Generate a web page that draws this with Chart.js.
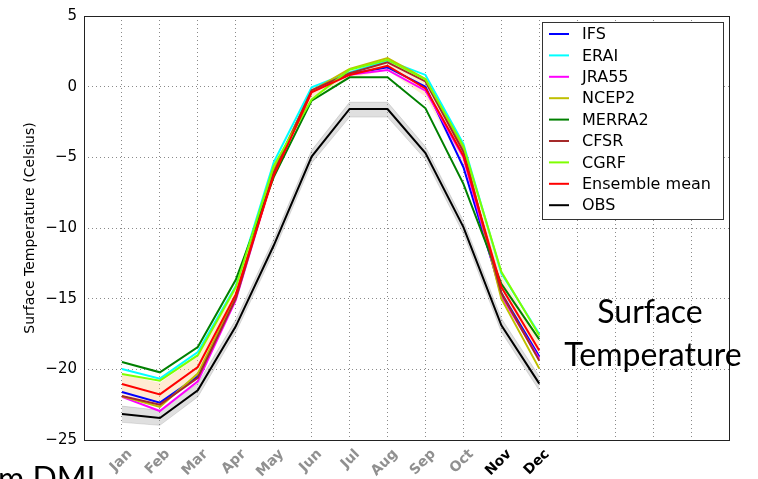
<!DOCTYPE html>
<html>
<head>
<meta charset="utf-8">
<script src="https://cdn.jsdelivr.net/npm/chart.js@4.4.1/dist/chart.umd.min.js"></script>
<style>
  body { margin: 0; background: #fff; }
  #wrap { width: 758px; height: 479px; }
</style>
</head>
<body>
<div id="wrap"><canvas id="myChart" width="758" height="479"></canvas></div>
<script>
const months = ['Jan', 'Feb', 'Mar', 'Apr', 'May', 'Jun', 'Jul', 'Aug', 'Sep', 'Oct', 'Nov', 'Dec'];
const yTicks = [5, 0, -5, -10, -15, -20, -25];

// monthly surface temperature, deg C
const ifs    = [-21.6, -22.36, -20.5, -14.9, -6.0, -0.3, 0.9, 1.37, 0.0, -5.7, -14.6, -19.1];
const erai   = [-19.98, -20.66, -18.77, -14.1, -5.35, -0.05, 1.0, 1.84, 0.83, -4.05, -13.2, -17.5];
const jra55  = [-21.95, -22.95, -20.85, -15.1, -6.1, -0.35, 0.85, 1.18, -0.28, -5.0, -14.8, -19.25];
const ncep2  = [-21.9, -22.66, -20.3, -14.8, -5.9, -0.3, 1.25, 2.03, 0.54, -4.3, -15.0, -19.95];
const merra2 = [-19.48, -20.21, -18.42, -13.66, -6.4, -0.99, 0.66, 0.66, -1.53, -6.88, -13.95, -17.88];
const cfsr   = [-21.89, -22.5, -20.6, -15.0, -6.1, -0.25, 0.95, 1.72, 0.37, -4.6, -14.6, -19.4];
const cgrf   = [-20.33, -20.8, -19.0, -14.2, -5.6, -0.9, 1.2, 1.9, 0.5, -4.2, -13.1, -17.6];
const ensMean = [-21.04, -21.77, -19.84, -14.7, -6.29, -0.4, 0.83, 1.48, -0.12, -4.88, -14.18, -18.66];
const obs    = [-23.16, -23.44, -21.48, -16.96, -11.24, -4.95, -1.58, -1.58, -4.7, -9.94, -16.89, -21.01];

// spread bands
const ensHigh = [-20.35, -20.95, -19.1, -14.1, -5.7, -0.1, 1.1, 1.8, 0.45, -4.2, -13.4, -17.9];
const ensLow  = [-21.75, -22.6, -20.6, -15.2, -6.6, -0.75, 0.6, 1.15, -0.7, -5.6, -15.0, -19.4];
const obsHigh = [-22.6, -22.9, -21.0, -16.5, -10.8, -4.5, -1.1, -1.1, -4.25, -9.5, -16.4, -20.5];
const obsLow  = [-23.75, -23.96, -21.95, -17.4, -11.7, -5.4, -2.15, -2.15, -5.15, -10.4, -17.35, -21.5];

const series = [
  { name: 'IFS', data: ifs, color: '#0000ff' },
  { name: 'ERAI', data: erai, color: '#00ffff' },
  { name: 'JRA55', data: jra55, color: '#ff00ff' },
  { name: 'NCEP2', data: ncep2, color: '#bfbf00' },
  { name: 'MERRA2', data: merra2, color: '#008000' },
  { name: 'CFSR', data: cfsr, color: '#a52a2a' },
  { name: 'CGRF', data: cgrf, color: '#7fff00' },
  { name: 'Ensemble mean', data: ensMean, color: '#ff0000' },
  { name: 'OBS', data: obs, color: '#000000' },
];

const toPoints = arr => arr.map((v, i) => ({ x: i + 1, y: v }));
const FONT = "'DejaVu Sans', sans-serif";

const bandSet = (data, fill, bg, border) => ({
  data: toPoints(data),
  fill: fill,
  backgroundColor: bg,
  borderColor: border,
  borderWidth: border ? 1 : 0,
  pointRadius: 0,
  tension: 0,
  order: 1000,
});

const datasets = [
  bandSet(obsHigh, 1, 'rgba(150,150,150,0.3)', 'rgba(0,0,0,0.12)'),
  bandSet(obsLow, false, 'rgba(0,0,0,0)', 'rgba(0,0,0,0.12)'),
  bandSet(ensHigh, 3, 'rgba(255,190,110,0.3)', null),
  bandSet(ensLow, false, 'rgba(0,0,0,0)', null),
  ...series.map((s, i) => ({
    label: s.name,
    data: toPoints(s.data),
    borderColor: s.color,
    backgroundColor: s.color,
    borderWidth: 2,
    pointRadius: 0,
    fill: false,
    tension: 0,
    order: 100 - i,
  })),
];

// axes frame, legend box and the side captions
const decor = {
  id: 'decor',
  afterDraw(chart) {
    const { ctx, chartArea: a } = chart;
    ctx.save();
    ctx.strokeStyle = '#222';
    ctx.lineWidth = 1;
    ctx.strokeRect(Math.round(a.left) + 0.5, Math.round(a.top) + 0.5,
      Math.round(a.right - a.left), Math.round(a.bottom - a.top));

    // legend
    const lx = 542, ly = 22, lw = 181, lh = 197;
    ctx.fillStyle = '#fff';
    ctx.fillRect(lx, ly, lw, lh);
    ctx.strokeStyle = '#333';
    ctx.strokeRect(lx + 0.5, ly + 0.5, lw, lh);
    ctx.font = '16px ' + FONT;
    ctx.textBaseline = 'middle';
    ctx.textAlign = 'left';
    series.forEach((s, i) => {
      const y = 34 + i * 21.4;
      ctx.strokeStyle = s.color;
      ctx.lineWidth = 2;
      ctx.beginPath();
      ctx.moveTo(549, y);
      ctx.lineTo(569, y);
      ctx.stroke();
      ctx.fillStyle = '#000';
      ctx.fillText(s.name, 582, y + 1);
    });

    // captions
    ctx.fillStyle = '#000';
    ctx.textBaseline = 'alphabetic';
    ctx.textAlign = 'center';
    ctx.font = "32px Lato, 'Open Sans', sans-serif";
    ctx.fillText('Surface', 650, 323);
    ctx.fillText('Temperature', 653, 366);
    ctx.textAlign = 'left';
    ctx.fillText('m DMI', -2, 490);
    ctx.restore();
  }
};

new Chart(document.getElementById('myChart'), {
  type: 'line',
  data: { datasets },
  options: {
    responsive: false,
    animation: false,
    layout: { padding: { top: 15, right: 29, left: 0, bottom: 0 } },
    plugins: {
      legend: { display: false },
      tooltip: { enabled: false },
    },
    scales: {
      x: {
        type: 'linear',
        min: 0,
        max: 17,
        afterFit: scale => { scale.height = 39; },
        grid: { color: '#8a8a8a', drawTicks: false },
        border: { display: false, dash: [1, 3] },
        ticks: {
          stepSize: 1,
          autoSkip: false,
          minRotation: 45,
          maxRotation: 45,
          padding: 6,
          labelOffset: 8,
          font: { family: FONT, size: 14, weight: 'bold' },
          color: c => (c.tick && c.tick.value >= 11 ? '#000' : '#909090'),
          callback: v => months[v - 1] || '',
        },
      },
      y: {
        min: -25,
        max: 5,
        afterFit: scale => { scale.width = 84; },
        afterBuildTicks: scale => { scale.ticks = yTicks.map(v => ({ value: v })); },
        grid: { color: '#8a8a8a', drawTicks: false },
        border: { display: false, dash: [1, 3] },
        ticks: {
          padding: 7,
          font: { family: FONT, size: 15 },
          color: '#000',
          callback: v => (v < 0 ? '\u2212' + Math.abs(v) : String(v)),
        },
        title: {
          display: true,
          text: 'Surface Temperature (Celsius)',
          font: { family: FONT, size: 14 },
          color: '#000',
          padding: { top: 22, bottom: 0 },
        },
      },
    },
  },
  plugins: [decor],
});
</script>
</body>
</html>
